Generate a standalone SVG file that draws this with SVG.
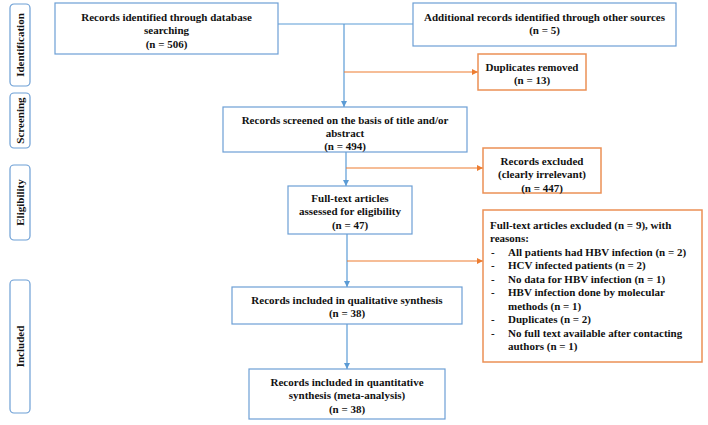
<svg xmlns="http://www.w3.org/2000/svg" width="708" height="425" viewBox="0 0 708 425">
<defs>
<style>
text{font-family:"Liberation Serif","Times New Roman",serif;font-weight:bold;font-size:11px;fill:#111;}
.c{text-anchor:middle;}
.bb{fill:#fff;stroke:#6d9fd5;stroke-width:1.2;}
.ob{fill:#fff;stroke:#eb9055;stroke-width:1.5;}
.side{fill:#fff;stroke:#6d9fd5;stroke-width:1.2;}
.bl{stroke:#5b9bd5;stroke-width:1.2;fill:none;}
.ol{stroke:#ed7d31;stroke-width:1.2;fill:none;}
</style>
<marker id="ab" markerWidth="8" markerHeight="8" refX="6" refY="3" orient="auto" markerUnits="userSpaceOnUse"><path d="M0,0 L6,3 L0,6 z" fill="#5b9bd5"/></marker>
<marker id="ao" markerWidth="8" markerHeight="8" refX="6" refY="3" orient="auto" markerUnits="userSpaceOnUse"><path d="M0,0 L6,3 L0,6 z" fill="#ed7d31"/></marker>
</defs>
<rect width="708" height="425" fill="#fff"/>

<g id="phase-identification"><rect class="side" x="10" y="4" width="20" height="82" rx="4"/><text class="c" transform="translate(24,45) rotate(-90)">Identification</text></g>
<g id="phase-screening"><rect class="side" x="10" y="93" width="20" height="55" rx="4"/><text class="c" transform="translate(24,120.5) rotate(-90)">Screening</text></g>
<g id="phase-eligibility"><rect class="side" x="10" y="165" width="20" height="75" rx="4"/><text class="c" transform="translate(24,202.5) rotate(-90)">Eligibility</text></g>
<g id="phase-included"><rect class="side" x="10" y="280" width="20" height="133" rx="4"/><text class="c" transform="translate(24,346.5) rotate(-90)">Included</text></g>

<g id="connectors">
<line class="bl" x1="278" y1="24" x2="413" y2="24"/>
<line class="bl" x1="344" y1="24" x2="344" y2="107" marker-end="url(#ab)"/>
<line class="ol" x1="344" y1="72" x2="478" y2="72" marker-end="url(#ao)"/>
<line class="bl" x1="346" y1="152" x2="346" y2="186" marker-end="url(#ab)"/>
<line class="ol" x1="346" y1="168" x2="483" y2="168" marker-end="url(#ao)"/>
<line class="bl" x1="347" y1="234" x2="347" y2="287" marker-end="url(#ab)"/>
<line class="ol" x1="347" y1="261" x2="483" y2="261" marker-end="url(#ao)"/>
<line class="bl" x1="347" y1="324" x2="347" y2="369" marker-end="url(#ab)"/>
</g>

<g id="n-db"><rect class="bb" x="55" y="3" width="223" height="51"/>
<text class="c" x="166.5" y="21">Records identified through database</text>
<text class="c" x="166.5" y="34">searching</text>
<text class="c" x="166.5" y="48">(n = 506)</text></g>

<g id="n-other"><rect class="bb" x="413" y="3" width="263" height="43"/>
<text class="c" x="544.5" y="21">Additional records identified through other sources</text>
<text class="c" x="544.5" y="34">(n = 5)</text></g>

<g id="n-dup"><rect class="ob" x="478" y="54" width="108" height="36"/>
<text class="c" x="532" y="71">Duplicates removed</text>
<text class="c" x="532" y="84">(n = 13)</text></g>

<g id="n-screened"><rect class="bb" x="223" y="107" width="244" height="45"/>
<text class="c" x="345" y="124">Records screened on the basis of title and/or</text>
<text class="c" x="345" y="137">abstract</text>
<text class="c" x="345" y="150">(n = 494)</text></g>

<g id="n-excl"><rect class="ob" x="483" y="148" width="118" height="45"/>
<text class="c" x="542" y="165">Records excluded</text>
<text class="c" x="542" y="178">(clearly irrelevant)</text>
<text class="c" x="542" y="192">(n = 447)</text></g>

<g id="n-fulltext"><rect class="bb" x="288" y="186" width="124" height="48"/>
<text class="c" x="350" y="202">Full-text articles</text>
<text class="c" x="350" y="215">assessed for eligibility</text>
<text class="c" x="350" y="229">(n = 47)</text></g>

<g id="n-ftexcl"><rect class="ob" x="483" y="210" width="219" height="152"/>
<text x="490" y="229">Full-text articles excluded (n = 9), with</text>
<text x="490" y="242">reasons:</text>
<text x="491" y="256">-</text><text x="508" y="256">All patients had HBV infection (n = 2)</text>
<text x="491" y="269">-</text><text x="508" y="269">HCV infected patients (n = 2)</text>
<text x="491" y="283">-</text><text x="508" y="283">No data for HBV infection (n = 1)</text>
<text x="491" y="296">-</text><text x="508" y="296">HBV infection done by molecular</text>
<text x="508" y="310">methods (n = 1)</text>
<text x="491" y="323">-</text><text x="508" y="323">Duplicates (n = 2)</text>
<text x="491" y="337">-</text><text x="508" y="337">No full text available after contacting</text>
<text x="508" y="350">authors (n = 1)</text></g>

<g id="n-qual"><rect class="bb" x="232" y="287" width="230" height="37"/>
<text class="c" x="347" y="304">Records included in qualitative synthesis</text>
<text class="c" x="347" y="317">(n = 38)</text></g>

<g id="n-quant"><rect class="bb" x="249" y="369" width="196" height="50"/>
<text class="c" x="347" y="386">Records included in quantitative</text>
<text class="c" x="347" y="399">synthesis (meta-analysis)</text>
<text class="c" x="347" y="413">(n = 38)</text></g>
</svg>
